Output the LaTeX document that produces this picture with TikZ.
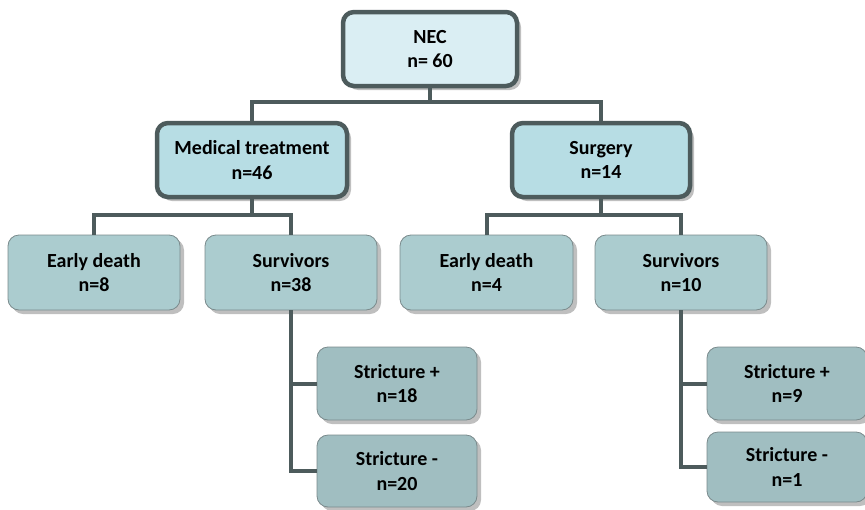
\documentclass[tikz,border=0pt]{standalone}
\usepackage{fontspec}
\setmainfont{Carlito}
\usetikzlibrary{shadows}
\definecolor{lineC}{HTML}{4D5B5C}
\definecolor{thinC}{HTML}{7A8A8C}
\definecolor{topF}{HTML}{DAEEF3}
\definecolor{midF}{HTML}{B7DDE4}
\definecolor{lowF}{HTML}{ABCCCF}
\definecolor{strF}{HTML}{A0BEC1}
\tikzset{
  base/.style={rounded corners=11pt, align=center, font=\fontsize{20}{24.5}\selectfont\bfseries,
    drop shadow={shadow xshift=4pt, shadow yshift=-4pt, fill=black, opacity=0.25}},
  thickbox/.style={base, draw=lineC, line width=4.5pt},
  thinbox/.style={base, draw=thinC, line width=0.8pt},
  conn/.style={draw=lineC, line width=4pt}
}
\begin{document}
\begin{tikzpicture}[x=1pt,y=-1pt]
\useasboundingbox (0,0) rectangle (865,509);
% top
\node[thickbox, fill=topF, minimum width=174pt, minimum height=74pt] (nec) at (430,49) {NEC\\n= 60};
\node[thickbox, fill=midF, minimum width=190pt, minimum height=74pt] (med) at (252,160) {Medical treatment\\n=46};
\node[thickbox, fill=midF, minimum width=178pt, minimum height=74pt] (sur) at (601,160) {Surgery\\n=14};
% level 3
\node[thinbox, fill=lowF, minimum width=172pt, minimum height=75pt] (ed1) at (94,272.5) {Early death\\n=8};
\node[thinbox, fill=lowF, minimum width=172pt, minimum height=75pt] (sv1) at (291,272.5) {Survivors\\n=38};
\node[thinbox, fill=lowF, minimum width=173pt, minimum height=75pt] (ed2) at (486.5,272.5) {Early death\\n=4};
\node[thinbox, fill=lowF, minimum width=172pt, minimum height=75pt] (sv2) at (681,272.5) {Survivors\\n=10};
% level 4
\node[thinbox, fill=strF, minimum width=160pt, minimum height=73pt] (sp1) at (397,383.5) {Stricture +\\n=18};
\node[thinbox, fill=strF, minimum width=160pt, minimum height=72pt] (sm1) at (397,471) {Stricture -\\n=20};
\node[thinbox, fill=strF, minimum width=160pt, minimum height=73pt] (sp2) at (787,383.5) {Stricture +\\n=9};
\node[thinbox, fill=strF, minimum width=160pt, minimum height=70pt] (sm2) at (787,467) {Stricture -\\n=1};
% connectors
\coordinate (j1) at (430,102);
\coordinate (j2) at (252,215);
\coordinate (j3) at (601,215);
\draw[conn] (nec.south) -- (j1);
\draw[conn] (j1) -| (med.north);
\draw[conn] (j1) -| (sur.north);
\draw[conn] (med.south) -- (j2);
\draw[conn] (j2) -| (ed1.north);
\draw[conn] (j2) -| (sv1.north);
\draw[conn] (sur.south) -- (j3);
\draw[conn] (j3) -| (ed2.north);
\draw[conn] (j3) -| (sv2.north);
\draw[conn] (sv1.south) |- (sp1.west);
\draw[conn] (sv1.south) |- (sm1.west);
\draw[conn] (sv2.south) |- (sp2.west);
\draw[conn] (sv2.south) |- (sm2.west);
\end{tikzpicture}
\end{document}
